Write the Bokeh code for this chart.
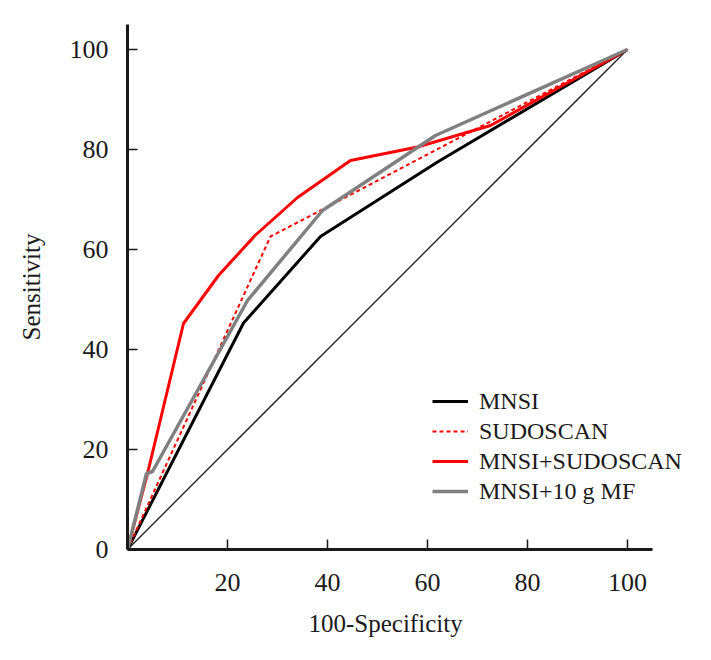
from bokeh.plotting import figure
from bokeh.models import FixedTicker, Legend, LegendItem, Title
from bokeh.embed import file_html
from bokeh.resources import INLINE

# Reference diagonal
diag_x = [0, 100]
diag_y = [0, 100]

# MNSI
mnsi_x = [0, 23.2, 38.6, 62, 100]
mnsi_y = [0, 45.3, 62.6, 77.5, 100]

# SUDOSCAN
sudo_x = [0, 28.6, 38.6, 100]
sudo_y = [0, 62.6, 67.8, 100]

# MNSI+SUDOSCAN
comb_x = [0, 4.0, 11.2, 18.2, 25.5, 34.0, 44.6, 58.0, 72.6, 100]
comb_y = [0, 15.2, 45.2, 54.8, 62.8, 70.4, 77.8, 80.5, 84.8, 100]

# MNSI+10 g MF
mf_x = [0, 3.8, 5.0, 24.0, 39.0, 61.6, 100]
mf_y = [0, 15.2, 15.6, 49.8, 67.8, 82.8, 100]

x_ticks = [20, 40, 60, 80, 100]
y_ticks = [0, 20, 40, 60, 80, 100]

FONT = "Liberation Serif"
TXT = "#1a1a1a"

p = figure(width=703, height=652, output_backend="svg", toolbar_location=None,
           x_range=(0, 114), y_range=(0, 105),
           min_border_left=127, min_border_right=6, min_border_top=24, min_border_bottom=103)
p.grid.visible = False
p.outline_line_color = None
p.background_fill_color = "white"
p.border_fill_color = "white"

for ax in (p.xaxis[0], p.yaxis[0]):
    ax.axis_line_width = 3
    ax.axis_line_color = "#1a1a1a"
    ax.major_tick_line_width = 1.5
    ax.major_tick_line_color = "#1a1a1a"
    ax.major_tick_in = 10
    ax.major_tick_out = 0
    ax.minor_tick_line_color = None
    ax.major_label_text_font = FONT
    ax.major_label_text_font_size = "26px"
    ax.major_label_text_color = TXT
    ax.axis_label_text_font = FONT
    ax.axis_label_text_font_size = "25px"
    ax.axis_label_text_font_style = "normal"
    ax.axis_label_text_color = TXT
    ax.bounds = (0, 105)

p.xaxis[0].ticker = FixedTicker(ticks=x_ticks)
p.yaxis[0].ticker = FixedTicker(ticks=y_ticks)
p.yaxis[0].axis_label = "Sensitivity"
p.xaxis[0].major_label_standoff = 24
p.yaxis[0].major_label_standoff = 19
p.yaxis[0].axis_label_standoff = 22

xlabel = Title(text="100-Specificity", align="left", offset=181, standoff=28,
               text_font=FONT, text_font_size="25px", text_font_style="normal",
               text_color=TXT)
p.add_layout(xlabel, "below")

p.line(diag_x, diag_y, line_color="#1a1a1a", line_width=1.3)
r_mnsi = p.line(mnsi_x, mnsi_y, line_color="black", line_width=3)
r_sudo = p.line(sudo_x, sudo_y, line_color="#ff0000", line_width=2, line_dash="4 3")
r_comb = p.line(comb_x, comb_y, line_color="#ff0000", line_width=3)
r_mf = p.line(mf_x, mf_y, line_color="#808080", line_width=3.5)

legend = Legend(items=[
    LegendItem(label="MNSI", renderers=[r_mnsi]),
    LegendItem(label="SUDOSCAN", renderers=[r_sudo]),
    LegendItem(label="MNSI+SUDOSCAN", renderers=[r_comb]),
    LegendItem(label="MNSI+10 g MF", renderers=[r_mf]),
], location=(305, 43))
legend.padding = 0
legend.margin = 0
legend.spacing = 0
legend.border_line_color = None
legend.background_fill_alpha = 0
legend.glyph_width = 36
legend.glyph_height = 30
legend.label_height = 30
legend.label_standoff = 11
legend.label_text_font = FONT
legend.label_text_font_size = "24px"
legend.label_text_color = TXT
p.add_layout(legend, "center")

open("out.html", "w").write(file_html(p, INLINE))
